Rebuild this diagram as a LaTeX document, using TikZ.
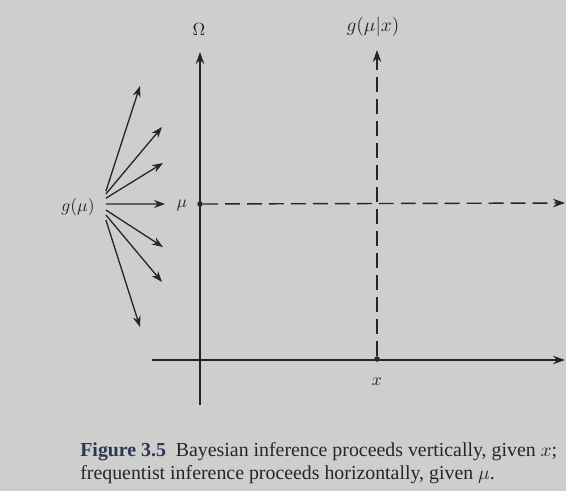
\documentclass[tikz,border=0pt]{standalone}
\usepackage{fontspec}
\setmainfont{Liberation Serif}
\usetikzlibrary{arrows.meta}
\definecolor{PageGray}{RGB}{206,206,204}
\definecolor{InkDark}{HTML}{262626}
\definecolor{CapBlue}{HTML}{2C3658}
\tikzset{
  axisLine/.style={
    line width=0.8pt,
    draw=InkDark,
    -{Stealth[length=2.4mm,width=1.7mm]}
  },
  dashLine/.style={
    axisLine,
    dash pattern=on 8.5pt off 4pt
  },
  fanArrow/.style={
    line width=0.75pt,
    draw=InkDark,
    -{Stealth[length=2.2mm,width=1.6mm]}
  },
  ptDot/.style={
    circle,
    fill=InkDark,
    inner sep=0pt,
    minimum size=1.1mm
  },
  axLabel/.style={
    text=InkDark,
    font=\fontsize{10pt}{12pt}\selectfont
  }
}

\begin{document}
\begin{tikzpicture}[x=0.02cm, y=-0.02cm]
        \fill[PageGray] (0,0) rectangle (566,491);
        \useasboundingbox (0,0) rectangle (566,491);

        % axes
        \coordinate (omBot) at (200,405);
        \coordinate (omTop) at (200,52);
        \coordinate (xLeft) at (152,360);
        \coordinate (xRight) at (565,360);
        \node (omega) [axLabel] at (199,29) {$\Omega$};
        \draw [axisLine] (omBot) -- (omTop);
        \draw [axisLine] (xLeft) -- (xRight);

        % the two fixed points
        \node (xPt) [ptDot] at (377,359) {};
        \node (xLab) [axLabel] at (377,382) {$x$};
        \node (muPt) [ptDot] at (200,204) {};
        \node (muLab) [axLabel] at (182,205) {$\mu$};
        \coordinate (gTop) at (377,50);
        \coordinate (muEnd) at (565,203);
        \node (gpost) [axLabel, font=\fontsize{10.5pt}{12pt}\selectfont] at (373,27) {$g(\mu|x)$};
        \draw [dashLine] (xPt) -- (gTop);
        \draw [dashLine] (muPt) -- (muEnd);

        % prior fan
        \node (gmu) [axLabel, inner xsep=6.2pt] at (78,207) {$g(\mu)$};
        \coordinate (tipA) at (140,86);
        \coordinate (tipB) at (162,127);
        \coordinate (tipC) at (163,163);
        \coordinate (tipD) at (165,204);
        \coordinate (tipE) at (163,247);
        \coordinate (tipF) at (162,282);
        \coordinate (tipG) at (140,327);
        \draw [fanArrow] ([yshift=9pt]gmu.east) -- (tipA);
        \draw [fanArrow] ([yshift=7.4pt]gmu.east) -- (tipB);
        \draw [fanArrow] ([yshift=5pt]gmu.east) -- (tipC);
        \draw [fanArrow] ([yshift=1.7pt]gmu.east) -- (tipD);
        \draw [fanArrow] ([yshift=-1.7pt]gmu.east) -- (tipE);
        \draw [fanArrow] ([yshift=-4.5pt]gmu.east) -- (tipF);
        \draw [fanArrow] ([yshift=-7.4pt]gmu.east) -- (tipG);

        % caption
        \node (cap) [anchor=north west, align=left, inner sep=0pt, text=InkDark,
          font=\fontsize{11.3pt}{13pt}\selectfont] at (80,442) {
          {\color{CapBlue}\textbf{Figure 3.5}}\hspace{0.5em}Bayesian inference proceeds vertically, given $x$;\\
          frequentist inference proceeds horizontally, given $\mu$.
        };
      \end{tikzpicture}
\end{document}
